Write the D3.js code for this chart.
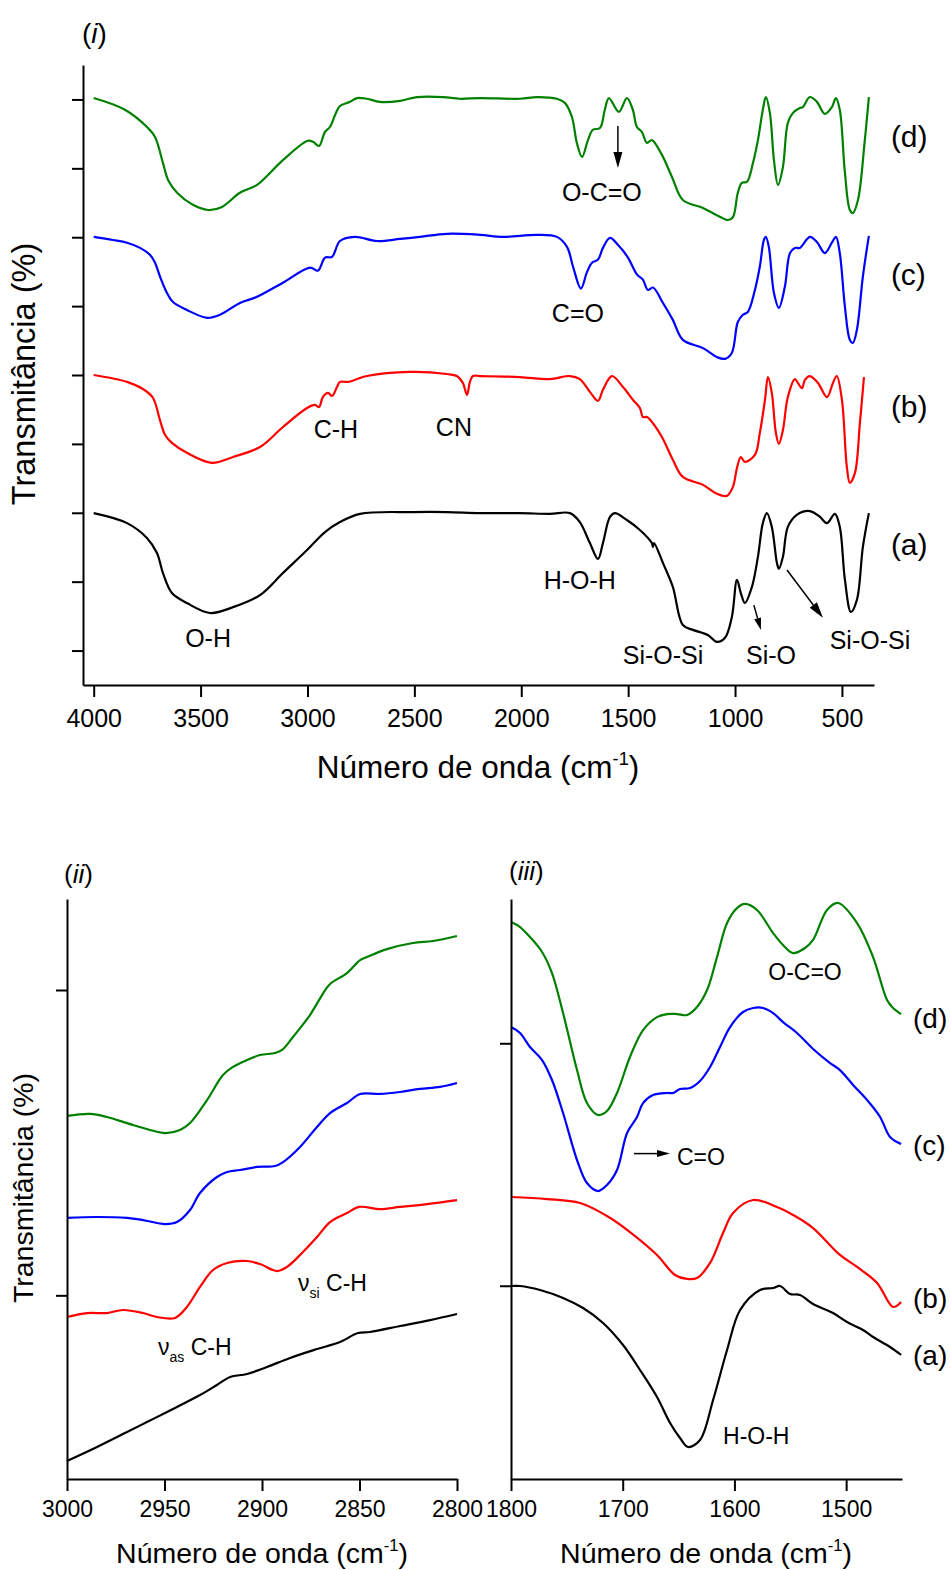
<!DOCTYPE html>
<html>
<head>
<meta charset="utf-8">
<script src="https://cdn.jsdelivr.net/npm/d3@7"></script>
<style>
  body { margin: 0; background: #fff; }
  svg { display: block; }
  text { font-family: "Liberation Sans", Arial, sans-serif; fill: #000; }
</style>
</head>
<body>
<svg id="fig" width="950" height="1570"></svg>
<script>
// ---------- FTIR spectra: [wavenumber (cm-1), transmittance (offset units)] ----------

// (i) full range 4000-400 cm-1
const fullA = [[4000,4.99],[3844,4.70],[3751,4.27],[3704,3.83],[3676,3.25],[3634,2.67],[3564,2.38],[3456,2.09],[3348,2.26],[3222,2.61],[3115,3.25],[3002,3.92],[2918,4.44],[2848,4.73],[2754,4.97],[2507,5.02],[2348,5.02],[2193,4.99],[2006,4.99],[1866,4.97],[1772,4.99],[1726,4.73],[1679,4.12],[1641,3.66],[1618,4.12],[1585,4.88],[1562,4.99],[1506,4.79],[1445,4.50],[1389,4.12],[1384,4.01],[1379,4.12],[1337,3.54],[1291,2.85],[1244,1.74],[1197,1.60],[1127,1.45],[1085,1.25],[1047,1.37],[1015,1.97],[991,3.05],[973,2.67],[954,2.38],[921,2.85],[893,3.72],[870,4.70],[851,4.99],[828,4.59],[804,3.54],[795,3.37],[776,3.72],[753,4.59],[711,4.94],[650,5.05],[603,4.88],[570,4.70],[533,4.97],[510,4.59],[486,3.05],[458,2.12],[430,2.47],[402,4.01],[374,4.99]];
const fullB = [[4000,9.00],[3844,8.80],[3769,8.59],[3723,8.34],[3690,7.69],[3666,7.26],[3634,7.03],[3564,6.74],[3447,6.45],[3348,6.62],[3222,6.91],[3115,7.49],[3002,8.04],[2965,8.13],[2946,8.07],[2928,8.36],[2904,8.48],[2885,8.39],[2862,8.65],[2848,8.80],[2811,8.80],[2722,8.97],[2521,9.09],[2348,9.03],[2301,8.97],[2273,8.77],[2254,8.42],[2240,8.80],[2226,8.97],[2193,8.97],[2006,8.94],[1866,8.88],[1772,8.97],[1726,8.88],[1679,8.51],[1641,8.25],[1618,8.57],[1576,8.97],[1524,8.65],[1478,8.28],[1445,8.04],[1431,7.78],[1412,7.78],[1384,7.60],[1342,7.20],[1291,6.54],[1244,6.04],[1150,5.81],[1085,5.55],[1038,5.49],[1010,5.75],[991,6.30],[973,6.62],[954,6.48],[907,6.68],[884,7.32],[860,8.28],[846,8.94],[828,8.48],[809,7.32],[795,7.00],[776,7.40],[753,8.36],[720,8.88],[706,8.77],[687,8.62],[673,8.86],[650,8.97],[612,8.77],[570,8.36],[542,8.77],[524,8.97],[500,8.28],[477,6.33],[463,5.87],[439,6.16],[416,7.60],[397,8.94]];
const fullC = [[4000,13.01],[3910,12.92],[3844,12.84],[3783,12.69],[3737,12.49],[3713,12.26],[3690,11.86],[3657,11.38],[3629,11.12],[3564,10.89],[3470,10.66],[3409,10.75],[3316,11.09],[3236,11.27],[3115,11.68],[2988,12.12],[2951,12.03],[2918,12.41],[2885,12.43],[2848,12.89],[2778,13.01],[2675,12.89],[2567,12.95],[2474,13.01],[2348,13.10],[2193,13.07],[2086,13.01],[1927,13.07],[1833,13.01],[1786,12.72],[1758,12.15],[1721,11.51],[1693,11.98],[1669,12.26],[1641,12.35],[1618,12.69],[1585,12.98],[1548,12.78],[1501,12.41],[1459,11.92],[1431,11.77],[1408,11.47],[1384,11.54],[1337,11.09],[1291,10.60],[1244,10.02],[1150,9.78],[1085,9.52],[1047,9.47],[1015,9.64],[987,10.54],[963,10.75],[940,10.83],[907,11.47],[884,12.15],[865,12.92],[856,13.01],[842,12.72],[818,11.38],[795,10.95],[767,11.56],[743,12.54],[720,12.69],[697,12.69],[650,13.01],[617,12.86],[580,12.54],[547,12.84],[528,13.01],[510,12.54],[486,10.98],[463,10.02],[449,9.93],[430,10.31],[402,11.86],[374,13.04]];
const fullD = [[4000,17.04],[3854,16.70],[3746,16.17],[3713,15.91],[3676,15.16],[3652,14.66],[3610,14.29],[3536,13.94],[3465,13.79],[3400,13.88],[3316,14.29],[3236,14.52],[3115,15.24],[2998,15.80],[2974,15.77],[2946,15.65],[2918,16.06],[2895,16.20],[2871,16.55],[2848,16.81],[2801,16.93],[2768,17.04],[2722,17.02],[2661,16.93],[2567,16.96],[2488,17.07],[2366,17.07],[2287,17.02],[2193,17.04],[2006,17.02],[1927,17.07],[1833,17.02],[1796,16.90],[1763,16.49],[1740,15.74],[1716,15.33],[1688,15.82],[1665,16.12],[1632,16.17],[1609,16.70],[1590,17.04],[1543,16.64],[1506,17.04],[1478,16.70],[1459,16.20],[1436,16.06],[1412,15.74],[1389,15.82],[1342,15.39],[1295,14.75],[1244,14.08],[1150,13.85],[1085,13.64],[1033,13.50],[1010,13.58],[987,14.29],[968,14.58],[944,14.61],[916,15.16],[893,15.82],[870,16.70],[856,17.07],[837,16.61],[818,15.24],[799,14.52],[776,15.04],[753,16.32],[729,16.61],[697,16.75],[683,16.78],[650,17.07],[617,16.93],[580,16.58],[547,16.78],[528,17.04],[510,16.70],[486,14.87],[463,13.79],[449,13.70],[425,14.08],[393,15.82],[374,17.07]];

// (ii) C-H stretching region 3000-2800 cm-1
const chA = [[3000,0.915],[2984.6,1.007],[2969.2,1.105],[2959.0,1.170],[2948.7,1.236],[2931.8,1.347],[2923.1,1.413],[2916.4,1.465],[2907.7,1.485],[2897.4,1.531],[2885.6,1.590],[2871.8,1.648],[2860.0,1.694],[2850.8,1.753],[2844.6,1.760],[2829.2,1.799],[2813.8,1.838],[2800,1.878]];
const chB = [[3000,1.858],[2989.7,1.884],[2979.5,1.884],[2971.3,1.904],[2961.0,1.884],[2953.8,1.858],[2944.6,1.852],[2938.5,1.924],[2931.8,2.055],[2925.1,2.166],[2917.9,2.212],[2907.7,2.225],[2901.0,2.205],[2892.3,2.159],[2887.2,2.186],[2879.0,2.284],[2871.8,2.382],[2865.1,2.480],[2856.4,2.539],[2850.3,2.579],[2839.5,2.565],[2829.2,2.579],[2815.4,2.598],[2800,2.624]];
const chC = [[3000,2.507],[2984.6,2.513],[2969.2,2.507],[2961.0,2.493],[2949.7,2.467],[2943.6,2.480],[2936.9,2.559],[2931.8,2.670],[2923.1,2.775],[2917.9,2.808],[2911.3,2.821],[2902.6,2.841],[2893.3,2.847],[2889.2,2.873],[2880.5,2.972],[2871.8,3.103],[2865.1,3.194],[2856.4,3.260],[2849.7,3.319],[2839.5,3.319],[2829.2,3.332],[2819.0,3.352],[2808.7,3.365],[2800,3.391]];
const chD = [[3000,3.175],[2988.2,3.188],[2979.5,3.168],[2966.2,3.116],[2949.7,3.063],[2942.1,3.083],[2936.9,3.129],[2928.2,3.279],[2920.0,3.443],[2914.9,3.496],[2907.7,3.541],[2901.0,3.574],[2893.3,3.587],[2889.7,3.607],[2884.1,3.692],[2875.4,3.836],[2869.2,3.967],[2865.1,4.039],[2856.4,4.111],[2849.7,4.196],[2846.2,4.216],[2835.9,4.268],[2822.6,4.308],[2812.3,4.321],[2800,4.354]];

// (iii) carbonyl / water bending region 1800-1450 cm-1
const coA = [[1800,1.998],[1791.9,1.998],[1774.0,1.965],[1753.4,1.899],[1735.5,1.816],[1717.6,1.693],[1699.7,1.511],[1684.5,1.305],[1669.3,1.082],[1657.6,0.868],[1648.7,0.744],[1641.5,0.670],[1630.8,0.728],[1619.1,1.058],[1606.6,1.470],[1594.9,1.800],[1577.1,1.965],[1565.4,1.981],[1559.2,1.998],[1550.2,1.932],[1541.3,1.924],[1529.6,1.849],[1511.7,1.775],[1499.2,1.701],[1484.9,1.635],[1475.9,1.577],[1460.7,1.495],[1450.8,1.429]];
const coB = [[1800,2.732],[1767.8,2.715],[1738.2,2.682],[1714.1,2.575],[1693.5,2.443],[1669.3,2.254],[1653.2,2.089],[1642.4,2.056],[1633.5,2.064],[1621.8,2.188],[1610.2,2.435],[1601.2,2.600],[1583.3,2.707],[1561.9,2.650],[1547.5,2.584],[1529.6,2.476],[1505.5,2.254],[1490.2,2.155],[1472.3,2.023],[1458.0,1.825],[1450.8,1.866]];
const coC = [[1800,4.134],[1791.9,4.085],[1783.0,3.969],[1772.2,3.862],[1763.3,3.697],[1753.4,3.425],[1740.9,3.037],[1732.0,2.847],[1722.1,2.781],[1714.1,2.831],[1705.1,2.955],[1696.1,3.260],[1687.2,3.392],[1681.8,3.507],[1672.9,3.573],[1660.3,3.590],[1655.0,3.590],[1648.7,3.623],[1639.7,3.631],[1630.8,3.689],[1621.8,3.804],[1612.9,3.969],[1603.9,4.134],[1592.3,4.258],[1583.3,4.291],[1574.4,4.291],[1565.4,4.249],[1556.5,4.175],[1544.0,4.085],[1529.6,3.953],[1514.4,3.837],[1505.5,3.779],[1493.8,3.656],[1481.3,3.532],[1469.6,3.392],[1460.7,3.227],[1450.8,3.169]];
const coD = [[1800,5.000],[1791.9,4.959],[1783.0,4.876],[1772.2,4.753],[1763.3,4.579],[1753.4,4.249],[1740.9,3.779],[1732.0,3.507],[1722.1,3.408],[1714.1,3.441],[1705.1,3.590],[1693.5,3.887],[1681.8,4.109],[1669.3,4.216],[1660.3,4.241],[1651.4,4.241],[1642.4,4.233],[1633.5,4.299],[1624.5,4.439],[1615.6,4.711],[1606.6,4.992],[1597.7,5.115],[1590.5,5.149],[1579.8,5.099],[1565.4,4.909],[1556.5,4.810],[1547.5,4.744],[1536.8,4.786],[1529.6,4.852],[1517.1,5.099],[1507.2,5.157],[1490.2,4.992],[1475.9,4.711],[1463.4,4.357],[1458.0,4.291],[1450.8,4.241]];

// sample labels and colours
const sampleLabels = ["(a)", "(b)", "(c)", "(d)"];
const sampleColors = ["#000000", "#ff0000", "#0000ff", "#008000"];

// tick values
const fullMajorTicks = [4000, 3500, 3000, 2500, 2000, 1500, 1000, 500];
const fullMinorTicks = [3750, 3250, 2750, 2250, 1750, 1250, 750];
const fullYMajor = [1, 3, 5, 7, 9, 11, 13, 15, 17];
const fullYMinor = [0, 2, 4, 6, 8, 10, 12, 14, 16, 18];
const chMajorTicks = [3000, 2950, 2900, 2850, 2800];
const chMinorTicks = [2975, 2925, 2875, 2825];
const chYMajor = [2, 4];
const chYMinor = [1, 3];
const coMajorTicks = [1800, 1700, 1600, 1500];
const coMinorTicks = [1750, 1650, 1550, 1450];
const coYMajor = [2, 4];
const coYMinor = [1, 3, 5];

// ---------- drawing ----------
const svg = d3.select("#fig");
const FONT = '"Liberation Sans", Arial, sans-serif';

function drawPanel(cfg) {
  const x = d3.scaleLinear().domain(cfg.xDomain).range(cfg.xRange);
  const y = d3.scaleLinear().domain(cfg.yDomain).range(cfg.yRange);
  const g = svg.append("g");

  // spectra
  const line = d3.line()
    .x(d => x(d[0]))
    .y(d => y(d[1]))
    .curve(d3.curveCatmullRom.alpha(0.5));
  cfg.series.forEach((s, i) => {
    g.append("path")
      .datum(s)
      .attr("fill", "none")
      .attr("stroke", sampleColors[i])
      .attr("stroke-width", 2.2)
      .attr("stroke-linejoin", "round")
      .attr("d", line);
  });

  // x axis: minor then major ticks
  const xb = g.append("g").attr("transform", `translate(0,${cfg.yRange[0]})`);
  xb.call(d3.axisBottom(x).tickValues(cfg.xMinor).tickSize(6).tickSizeOuter(0).tickFormat(""));
  xb.call(d3.axisBottom(x).tickValues(cfg.xMajor).tickSize(12).tickSizeOuter(0)
    .tickFormat(d3.format("d")).tickPadding(4));
  xb.selectAll("text").attr("font-size", cfg.tickFont).attr("font-family", FONT)
    .attr("fill", "#000").attr("dy", null).attr("y", cfg.tickLabelY - cfg.yRange[0])
    .attr("dominant-baseline", "alphabetic");

  // y axis: ticks without labels
  const yl = g.append("g").attr("transform", `translate(${cfg.xRange[0]},0)`);
  yl.call(d3.axisLeft(y).tickValues(cfg.yMinor).tickSize(6).tickSizeOuter(0).tickFormat(""));
  yl.call(d3.axisLeft(y).tickValues(cfg.yMajor).tickSize(11).tickSizeOuter(0).tickFormat(""));

  g.selectAll(".domain, .tick line").attr("stroke", "#000").attr("stroke-width", 2);

  // axis titles
  const xt = g.append("text")
    .attr("x", cfg.xTitleX).attr("y", cfg.xTitleY)
    .attr("text-anchor", "middle").attr("font-size", cfg.titleFont);
  xt.append("tspan").text("Número de onda (cm");
  xt.append("tspan").attr("font-size", cfg.titleFont * 0.58).attr("dy", -cfg.titleFont * 0.42).text("-1");
  xt.append("tspan").attr("dy", cfg.titleFont * 0.42).text(")");

  g.append("text")
    .attr("transform", `translate(${cfg.yTitleX},${cfg.yTitleY}) rotate(-90)`)
    .attr("text-anchor", "middle").attr("font-size", cfg.yTitleFont)
    .text("Transmitância (%)");

  // panel tag
  const tag = g.append("text").attr("x", cfg.tagX).attr("y", cfg.tagY).attr("font-size", cfg.tagFont);
  tag.append("tspan").text("(");
  tag.append("tspan").attr("font-style", "italic").text(cfg.tag);
  tag.append("tspan").text(")");

  // sample labels on the right
  if (cfg.sampleLabelPos) {
    cfg.sampleLabelPos.forEach((v, i) => {
      g.append("text")
        .attr("x", x(cfg.sampleLabelW)).attr("y", y(v))
        .attr("font-size", cfg.sampleFont)
        .text(sampleLabels[i]);
    });
  }
  return { g, x, y };
}

function label(g, px, py, txt, size, anchor) {
  g.append("text").attr("x", px).attr("y", py)
    .attr("font-size", size).attr("text-anchor", anchor || "middle").text(txt);
}

function arrow(g, x1, y1, x2, y2, headLen, headW) {
  const ang = Math.atan2(y2 - y1, x2 - x1);
  const bx = x2 - headLen * Math.cos(ang), by = y2 - headLen * Math.sin(ang);
  g.append("line").attr("x1", x1).attr("y1", y1).attr("x2", bx).attr("y2", by)
    .attr("stroke", "#000").attr("stroke-width", 1.5);
  const nx = -Math.sin(ang) * headW / 2, ny = Math.cos(ang) * headW / 2;
  g.append("path")
    .attr("d", `M${x2},${y2}L${bx + nx},${by + ny}L${bx - nx},${by - ny}Z`)
    .attr("fill", "#000");
}

// ----- panel (i) -----
const p1 = drawPanel({
  xDomain: [4050, 350], xRange: [83, 874],
  yDomain: [0, 18], yRange: [685, 65],
  xMajor: fullMajorTicks, xMinor: fullMinorTicks,
  yMajor: fullYMajor, yMinor: fullYMinor,
  series: [fullA, fullB, fullC, fullD],
  tickFont: 25, tickLabelY: 727,
  titleFont: 31.5, xTitleX: 478, xTitleY: 778,
  yTitleFont: 32.5, yTitleX: 35, yTitleY: 374,
  tag: "i", tagX: 82, tagY: 43, tagFont: 28,
  sampleLabelPos: [3.77, 7.78, 11.61, 15.62], sampleLabelW: 271, sampleFont: 30
});
{
  const { g, x, y } = p1;
  const f = 25;
  label(g, x(3465), y(1.10), "O-H", f);
  label(g, x(2867), y(7.17), "C-H", f);
  label(g, x(2315), y(7.23), "CN", f);
  label(g, x(1735), y(10.54), "C=O", f);
  label(g, x(1623), y(14.05), "O-C=O", f);
  label(g, x(1726), y(2.79), "H-O-H", f);
  label(g, x(1337), y(0.61), "Si-O-Si", f);
  label(g, x(832), y(0.61), "Si-O", f);
  label(g, x(369), y(1.05), "Si-O-Si", f);
  arrow(g, x(1548), y(16.23), x(1548), y(15.01), 16, 9);
  arrow(g, x(912), y(2.32), x(879), y(1.60), 12, 7);
  arrow(g, x(757), y(3.34), x(589), y(1.95), 16, 9);
}

// ----- panel (ii) -----
const p2 = drawPanel({
  xDomain: [3000, 2800], xRange: [67, 457],
  yDomain: [0.797, 4.596], yRange: [1479, 899],
  xMajor: chMajorTicks, xMinor: chMinorTicks,
  yMajor: chYMajor, yMinor: chYMinor,
  series: [chA, chB, chC, chD],
  tickFont: 23, tickLabelY: 1517,
  titleFont: 28.5, xTitleX: 262, xTitleY: 1563,
  yTitleFont: 28.5, yTitleX: 33, yTitleY: 1188,
  tag: "ii", tagX: 64, tagY: 883, tagFont: 26
});
{
  const { g, x, y } = p2;
  const nuLabel = (w, v, sub) => {
    const t = g.append("text").attr("x", x(w)).attr("y", y(v)).attr("font-size", 23);
    t.append("tspan").text("ν");
    t.append("tspan").attr("font-size", 14).attr("dy", 7).text(sub);
    t.append("tspan").attr("dy", -7).text(" C-H");
  };
  nuLabel(2881.5, 2.03, "si");
  nuLabel(2953.3, 1.61, "as");
}

// ----- panel (iii) -----
const p3 = drawPanel({
  xDomain: [1800, 1450], xRange: [511, 902],
  yDomain: [0.406, 5.19], yRange: [1479, 899],
  xMajor: coMajorTicks, xMinor: coMinorTicks,
  yMajor: coYMajor, yMinor: coYMinor,
  series: [coA, coB, coC, coD],
  tickFont: 23, tickLabelY: 1517,
  titleFont: 28.5, xTitleX: 706, xTitleY: 1563,
  yTitleFont: 28.5, yTitleX: -100, yTitleY: -100,
  tag: "iii", tagX: 509, tagY: 880, tagFont: 26,
  sampleLabelPos: [1.35, 1.82, 3.08, 4.13], sampleLabelW: 1440.1, sampleFont: 28
});
{
  const { g, x, y } = p3;
  label(g, x(1536.8), y(4.52), "O-C=O", 23);
  label(g, x(1651.4), y(3.00), "C=O", 23, "start");
  label(g, x(1610.2), y(0.695), "H-O-H", 23, "start");
  arrow(g, x(1689.9), y(3.09), x(1657.7), y(3.09), 13, 7);
}
// panel (iii) shares the left figure's y title, so drop its own
p3.g.selectAll("text").filter(function () { return d3.select(this).text() === "Transmitância (%)"; }).remove();
</script>
</body>
</html>
